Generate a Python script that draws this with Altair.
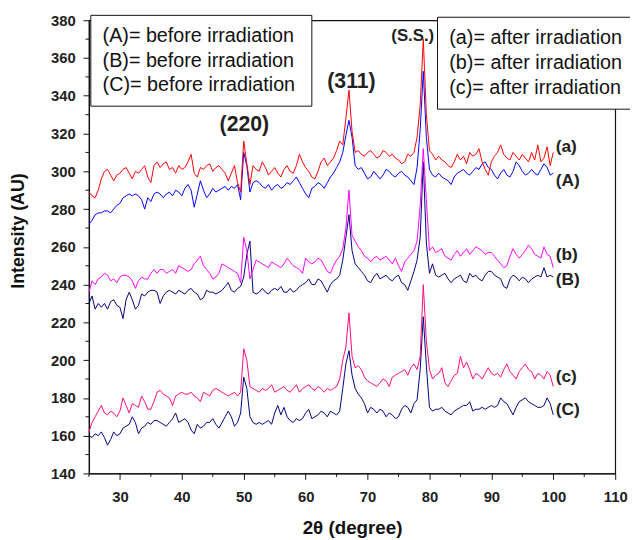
import altair as alt
import pandas as pd

# 2-theta sampling grid: 25.0 .. 100.0 in 0.5 degree steps (151 samples)
X0 = 25.0
DX = 0.5

# (a) after irradiation - red
a_vals = [
    289, 287, 286, 290, 296, 300, 301, 298, 295, 298,
    299, 301, 302, 299, 296, 300, 299, 301, 303, 297,
    294, 303, 305, 302, 304, 305, 301, 302, 299, 303,
    301, 302, 305, 309, 299, 297, 302, 301, 303, 304,
    300, 302, 303, 301, 299, 295, 299, 303, 294, 289,
    316, 304, 293, 303, 301, 300, 305, 302, 298, 300,
    302, 299, 297, 301, 303, 300, 299, 303, 309, 305,
    302, 300, 297, 296, 300, 305, 307, 303, 305, 307,
    311, 316, 314, 328, 343, 321, 310, 311, 309, 308,
    310, 311, 309, 307, 308, 311, 310, 308, 309, 307,
    306, 304, 305, 309, 308, 310, 318, 335, 370, 330,
    311, 309, 306, 308, 306, 305, 303, 302, 305, 309,
    306, 308, 304, 310, 308, 309, 312, 305, 301, 298,
    305, 308, 310, 314, 309, 307, 306, 310, 308, 306,
    309, 307, 305, 310, 306, 314, 305, 307, 313, 303,
    310,
]
# (A) before irradiation - blue
A_vals = [
    272, 274, 277, 278, 278, 279, 279, 278, 280, 282,
    283, 286, 287, 288, 287, 288, 287, 285, 280, 286,
    284, 288, 289, 288, 286, 288, 289, 287, 290, 289,
    287, 291, 293, 290, 281, 288, 295, 290, 286, 288,
    291, 289, 290, 291, 292, 290, 292, 291, 293, 285,
    310, 303, 289, 294, 295, 294, 292, 291, 293, 290,
    292, 293, 291, 292, 294, 293, 295, 297, 294, 291,
    288, 286, 291, 292, 294, 293, 291, 294, 297, 299,
    302, 305, 310, 319, 327, 318, 303, 301, 302, 299,
    296, 297, 300, 298, 296, 298, 301, 300, 298, 297,
    299, 300, 298, 297, 295, 293, 302, 322, 353, 318,
    301, 298, 297, 299, 297, 296, 295, 293, 297, 299,
    300, 301, 299, 298, 300, 302, 301, 304, 305, 302,
    301, 298, 296, 299, 301, 298, 297, 300, 305, 303,
    300, 298, 299, 301, 299, 298, 301, 304, 302, 298,
    299,
]
# (b) after irradiation - magenta
b_vals = [
    236, 242, 240, 243, 244, 246, 245, 242, 243, 241,
    244, 245, 245, 244, 242, 238, 242, 244, 243, 243,
    246, 248, 246, 248, 248, 246, 247, 248, 246, 250,
    249, 248, 247, 248, 251, 253, 255, 250, 248, 246,
    243, 244, 246, 251, 250, 249, 248, 247, 246, 241,
    265, 258, 243, 248, 253, 252, 251, 250, 249, 252,
    251, 250, 249, 251, 254, 252, 250, 249, 248, 246,
    254, 252, 251, 252, 254, 253, 250, 247, 246, 250,
    253, 255, 259, 270, 290, 266, 263, 260, 258, 255,
    254, 252, 254, 255, 253, 254, 255, 253, 251, 254,
    250, 247, 252, 254, 256, 258, 263, 282, 312, 285,
    258, 260, 257, 258, 259, 255, 254, 253, 256, 258,
    255, 257, 259, 256, 258, 260, 259, 258, 256, 257,
    257, 255, 253, 251, 249, 250, 255, 259, 256, 254,
    256, 258, 261, 259, 256, 255, 254, 260, 256, 255,
    249,
]
# (B) before irradiation - navy
B_vals = [
    230, 234, 227, 230, 228, 230, 227, 231, 232, 229,
    228, 222, 232, 236, 232, 227, 229, 235, 234, 236,
    237, 237, 236, 230, 234, 236, 237, 236, 235, 237,
    236, 235, 237, 238, 236, 235, 232, 233, 237, 236,
    236, 235, 236, 237, 239, 241, 237, 236, 238, 239,
    244, 256, 263, 236, 235, 236, 238, 236, 235, 237,
    238, 237, 239, 236, 236, 238, 236, 237, 239, 240,
    241, 243, 240, 240, 243, 242, 239, 236, 240, 242,
    243, 245, 253, 265, 277, 258, 251, 249, 247, 245,
    242, 241, 244, 246, 243, 244, 245, 243, 242, 244,
    245, 241, 240, 237, 242, 247, 253, 265, 305, 262,
    246, 251, 245, 244, 245, 246, 243, 241, 243, 244,
    245, 242, 241, 246, 244, 245, 243, 242, 245, 247,
    247, 245, 244, 243, 239, 238, 243, 245, 244, 242,
    244, 243, 241, 243, 244, 245, 244, 249, 244, 245,
    244,
]
# (c) after irradiation - pink
c_vals = [
    162, 167, 170, 173, 176, 172, 171, 173, 172, 170,
    173, 180, 176, 172, 177, 176, 175, 181, 178, 174,
    174, 178, 183, 184, 182, 181, 180, 176, 181, 182,
    183, 182, 182, 183, 181, 180, 178, 183, 182, 181,
    184, 185, 184, 183, 182, 181, 182, 183, 181, 183,
    206, 200, 186, 185, 184, 183, 185, 184, 185, 187,
    183, 184, 185, 186, 184, 183, 185, 187, 183, 185,
    186, 187, 185, 184, 186, 185, 183, 185, 184, 185,
    186, 190, 200, 207, 225, 202, 196, 197, 195, 191,
    189, 188, 187, 186, 188, 190, 189, 186, 191, 192,
    193, 194, 195, 192, 196, 198, 195, 202, 240, 210,
    195, 190, 192, 193, 196, 188, 186, 189, 192, 193,
    202, 196, 199, 195, 190, 193, 192, 190, 193, 196,
    193, 192, 193, 191, 195, 198, 194, 192, 190, 194,
    196, 198, 195, 194, 190, 193, 192, 190, 194, 192,
    186,
]
# (C) before irradiation - navy
C_vals = [
    160, 159, 161, 160, 162, 159, 155, 158, 162, 160,
    161, 164, 165, 166, 170, 167, 161, 164, 165, 167,
    166, 168, 168, 167, 166, 165, 167, 169, 172, 167,
    168, 169, 167, 163, 161, 166, 164, 165, 167, 167,
    169, 166, 164, 167, 170, 173, 170, 165, 167, 172,
    191, 185, 170, 167, 166, 167, 166, 167, 168, 166,
    172, 176, 171, 175, 170, 168, 167, 169, 168, 169,
    172, 174, 169, 170, 171, 173, 172, 170, 173, 172,
    171, 173, 185, 198, 205, 192, 185, 182, 180, 177,
    172, 175, 174, 172, 174, 173, 170, 172, 171, 169,
    170, 174, 176, 175, 172, 177, 179, 195, 223, 197,
    175, 173, 174, 174, 175, 173, 172, 171, 173, 174,
    175, 176, 176, 178, 173, 174, 174, 175, 174, 175,
    176, 175, 176, 180, 178, 177, 174, 171, 175, 178,
    179, 180, 178, 177, 176, 175, 175, 176, 180, 177,
    171,
]

series_names = ["(A)", "(a)", "(B)", "(b)", "(C)", "(c)"]
series_vals = [A_vals, a_vals, B_vals, b_vals, C_vals, c_vals]
series_colors = ["#0000ff", "#ff0000", "#000080", "#ff00ff", "#000080", "#ff0a78"]

rows = []
for name, vals in zip(series_names, series_vals):
    assert len(vals) == 151, (name, len(vals))
    for i, v in enumerate(vals):
        rows.append({"tt": X0 + DX * i, "I": v, "s": name})
df = pd.DataFrame(rows)

# Axis ticks
x_major = [30, 40, 50, 60, 70, 80, 90, 100, 110]
x_minor = [25, 35, 45, 55, 65, 75, 85, 95, 105]
y_major = [140, 160, 180, 200, 220, 240, 260, 280, 300, 320, 340, 360, 380]
y_minor = [150, 170, 190, 210, 230, 250, 270, 290, 310, 330, 350, 370]

# Annotation texts
curve_labels = ["(a)", "(A)", "(b)", "(B)", "(c)", "(C)"]
curve_label_y = [313, 295, 255.5, 242.5, 191, 173.5]
peak_labels = ["(220)", "(311)"]
peak_x = [50.1, 67.4]
peak_y = [324.5, 347.5]
ss_label = ["(S.S.)"]
legend_left = ["(A)= before irradiation", "(B)= before irradiation", "(C)= before irradiation"]
legend_right = ["(a)= after irradiation", "(b)= after irradiation", "(c)= after irradiation"]

FONT = "Liberation Sans"
W, H = 533, 459
xscale = alt.Scale(domain=[25, 110], nice=False, zero=False)
yscale = alt.Scale(domain=[140, 380], nice=False, zero=False)

xaxis = alt.Axis(
    values=x_major, tickSize=6,
    title="2θ (degree)", titleFont=FONT, titleFontSize=19, titleFontWeight="bold",
    titleColor="#111", titleY=55, titleBaseline="middle",
    labelFont=FONT, labelFontSize=15, labelFontWeight="bold", labelColor="#222",
    labelPadding=10, labelOverlap=False, labelFlush=False, grid=False,
    domainColor="#111", tickColor="#111", domainWidth=1.2,
)
yaxis = alt.Axis(
    values=y_major, tickSize=6,
    title="Intensity (AU)", titleFont=FONT, titleFontSize=18, titleFontWeight="bold",
    titleColor="#111", titleX=-71, titleY=213, titleAngle=270,
    titleAlign="center", titleBaseline="middle",
    labelFont=FONT, labelFontSize=15, labelFontWeight="bold", labelColor="#222",
    labelPadding=8, labelOverlap=False, labelFlush=False, grid=False,
    domainColor="#111", tickColor="#111", domainWidth=1.2,
)


def X(field):
    return alt.X(field, scale=xscale, axis=xaxis, title="2θ (degree)")


def Y(field):
    return alt.Y(field, scale=yscale, axis=yaxis, title="Intensity (AU)")


lines = alt.Chart(df).mark_line(strokeWidth=1).encode(
    x=X("tt:Q"),
    y=Y("I:Q"),
    color=alt.Color("s:N", scale=alt.Scale(domain=series_names, range=series_colors), legend=None),
    detail="s:N",
)

xminor = alt.Chart(pd.DataFrame({"v": x_minor})).mark_rule(color="#111", strokeWidth=1).encode(
    x=X("v:Q"), y=alt.value(H), y2=alt.value(H + 3.5)
)
yminor = alt.Chart(pd.DataFrame({"v": y_minor})).mark_rule(color="#111", strokeWidth=1).encode(
    y=Y("v:Q"), x=alt.value(0), x2=alt.value(-3.5)
)

boxes_df = pd.DataFrame({
    "x1": [25.3, 81.3], "x2": [61.0, 112.9],
    "y1": [382.6, 381.6], "y2": [334.5, 332.9],
})
boxes = alt.Chart(boxes_df).mark_rect(fill="white", stroke="#111", strokeWidth=1).encode(
    x=X("x1:Q"), x2="x2:Q", y=Y("y1:Q"), y2="y2:Q",
)

leg_df = pd.DataFrame({
    "t": legend_left + legend_right,
    "x": [27.2] * 3 + [83.2] * 3,
    "y": [371.6, 358.6, 345.5, 370.6, 357.5, 343.9],
})
leg_text = alt.Chart(leg_df).mark_text(
    align="left", baseline="middle", font=FONT, fontSize=20, color="#111"
).encode(x=X("x:Q"), y=Y("y:Q"), text="t:N")

cl_df = pd.DataFrame({"t": curve_labels, "x": [100.4] * 6, "y": curve_label_y})
cl_text = alt.Chart(cl_df).mark_text(
    align="left", baseline="middle", font=FONT, fontSize=17.5, fontWeight="bold", color="#222"
).encode(x=X("x:Q"), y=Y("y:Q"), text="t:N")

pk_df = pd.DataFrame({"t": peak_labels, "x": peak_x, "y": peak_y})
pk_text = alt.Chart(pk_df).mark_text(
    align="center", baseline="middle", font=FONT, fontSize=21.5, fontWeight="bold", color="#222"
).encode(x=X("x:Q"), y=Y("y:Q"), text="t:N")

ss_df = pd.DataFrame({"t": ss_label, "x": [77.3], "y": [371.6]})
ss_text = alt.Chart(ss_df).mark_text(
    align="center", baseline="middle", font=FONT, fontSize=17, fontWeight="bold", color="#222"
).encode(x=X("x:Q"), y=Y("y:Q"), text="t:N")

chart = alt.layer(lines, xminor, yminor, boxes, leg_text, cl_text, pk_text, ss_text).properties(
    width=W, height=H,
    autosize=alt.AutoSizeParams(type="none"),
    padding={"left": 82, "top": 9, "right": 15, "bottom": 64},
).configure_view(stroke="#111", strokeWidth=1.2)

chart.save("out.html", embed_options={"renderer": "svg", "actions": False})
